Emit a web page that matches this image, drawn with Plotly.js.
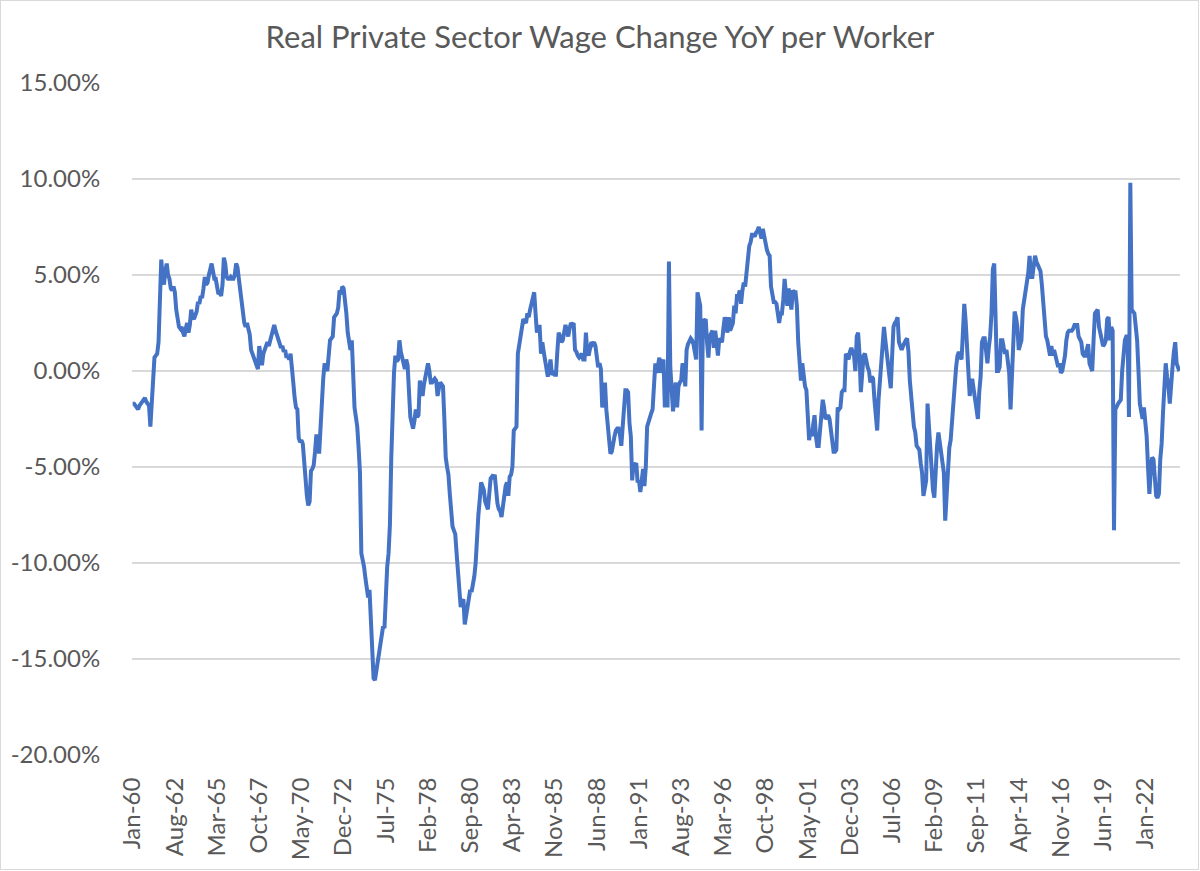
<!DOCTYPE html>
<html>
<head>
<meta charset="utf-8">
<script src="https://cdn.plot.ly/plotly-3.0.1.min.js"></script>
<style>
  html, body { margin: 0; padding: 0; background: #fff; }
  #wrap { position: relative; width: 1200px; height: 871px; }
  #chart { width: 1200px; height: 871px; }
  #frame { position: absolute; left: 0; top: 0; width: 1197px; height: 868px; border: 1px solid #d9d9d9; pointer-events: none; }
</style>
</head>
<body>
<div id="wrap"><div id="chart"></div><div id="frame"></div></div>
<script>
// Monthly values (% YoY), Jan-1960 onward
const w1960s = [
  -1.7, -1.7, -1.8, -1.9, -2.0, -1.8, -1.7, -1.6, -1.5, -1.4, -1.6, -1.7,
  -1.8, -2.9, -1.9, -0.6, 0.7, 0.8, 0.9, 1.5, 3.4, 5.8, 4.9, 4.5,
  5.2, 5.6, 5.0, 4.8, 4.3, 4.2, 4.4, 4.1, 3.2, 2.5, 2.3, 2.2,
  2.3, 2.0, 1.8, 2.2, 2.5, 2.0, 2.4, 3.2, 2.8, 2.7, 2.9, 3.1,
  3.6, 3.5, 3.9, 3.8, 4.3, 4.9, 4.5, 4.6, 5.0, 5.3, 5.6, 5.2,
  4.8, 4.8, 4.5, 4.0, 4.1, 3.9, 4.5, 5.9, 5.6, 4.9, 4.8, 4.8,
  4.9, 4.8, 4.8, 5.0, 5.6, 5.4, 4.8, 4.2, 3.7, 2.8, 2.5, 2.3,
  2.5, 2.2, 1.9, 1.1, 0.9, 0.6, 0.5, 0.3, 0.1, 1.3, 0.8, 0.3,
  0.9, 1.1, 1.4, 1.5, 1.3, 1.6, 1.7, 2.0, 2.4, 2.1, 1.9, 1.7,
  1.5, 1.2, 1.3, 1.0, 1.1, 0.7, 0.8, 0.6, 0.9, -0.2, -0.6, -1.4
];
const w1970s = [
  -1.9, -2.0, -3.5, -3.7, -3.6, -3.8, -4.5, -5.6, -6.5, -7.0, -6.8, -5.2,
  -5.1, -4.9, -4.2, -3.3, -3.8, -4.3, -3.0, -1.0, -0.4, 0.4, 0.2, 0.0,
  0.8, 1.6, 1.7, 1.8, 2.8, 2.9, 3.0, 3.3, 4.2, 4.0, 4.4, 4.3,
  3.7, 3.0, 2.0, 1.5, 1.1, 1.6, -0.5, -1.9, -2.4, -2.9, -4.0, -5.3,
  -9.5, -9.8, -10.2, -10.8, -11.5, -11.8, -11.4, -13.0, -14.5, -16.0, -16.1, -15.6,
  -15.0, -14.5, -14.0, -13.6, -13.3, -13.4, -11.5, -10.2, -9.5, -8.0, -4.5, -1.2,
  -0.1, 0.8, 0.5, 0.6, 1.6, 1.0, 0.6, 0.4, 0.1, 0.6, 0.3, -1.5,
  -2.4, -2.7, -3.0, -2.6, -2.0, -2.4, -2.3, -0.5, -1.0, -1.3, -0.7, -0.3,
  0.0, 0.4, 0.0, -0.6, -0.6, -0.5, -0.4, -0.5, -1.3, -0.9, -0.6, -0.7,
  -0.8, -2.5, -4.5, -5.0, -5.4, -6.4, -7.2, -8.1, -8.3, -8.5, -9.5, -10.5
];
const w1980s = [
  -11.5, -12.3, -12.0, -11.9, -13.2, -12.8, -12.3, -11.8, -11.4, -11.5, -11.2, -10.7,
  -10.0, -8.4, -7.5, -6.7, -5.8, -6.0, -6.2, -6.8, -7.1, -7.2, -6.4, -5.6,
  -5.5, -5.6, -5.4, -6.2, -6.9, -7.2, -7.3, -7.6, -7.0, -6.4, -6.0, -5.8,
  -6.5, -5.5, -5.4, -5.0, -3.1, -3.0, -2.9, 0.9, 1.3, 1.8, 2.2, 2.7,
  2.6, 2.5, 3.0, 2.8, 3.2, 3.5, 3.7, 4.1, 3.0, 2.0, 2.3, 2.3,
  0.9, 1.5, 1.0, 0.6, 0.2, -0.3, 0.1, 0.6, -0.2, -0.1, -0.2, -0.2,
  1.0, 2.0, 1.8, 1.5, 1.6, 2.0, 2.4, 2.1, 1.8, 2.2, 2.5, 2.4,
  2.5, 1.1, 1.0, 0.8, 0.7, 0.8, 0.9, 0.6, 0.6, 2.0, 1.0, 0.8,
  1.2, 1.5, 1.4, 1.5, 1.3, 0.8, 0.2, 0.4, 0.1, -1.9, -0.9, -0.6,
  -2.0, -2.8, -3.6, -4.3, -4.2, -3.6, -3.4, -3.1, -3.0, -3.0, -3.3, -3.9
];
const w1990s = [
  -2.8, -2.0, -1.0, -1.0, -1.1, -2.7, -3.4, -5.7, -4.8, -4.9, -4.8, -5.8,
  -5.7, -6.3, -5.6, -5.1, -6.0, -5.0, -2.9, -2.6, -2.4, -2.2, -2.0, -1.0,
  0.4, -0.1, 0.2, 0.7, -0.1, 0.3, 0.6, -1.9, -0.5, -1.9, 5.7, 0.2,
  -1.0, -2.1, -1.2, -0.6, -1.9, -0.8, -0.6, -0.5, 0.4, 0.2, -0.8, 1.1,
  1.4, 1.6, 1.7, 1.6, 1.4, 1.0, 0.6, 4.1, 3.8, 3.4, -3.1, 2.7,
  2.6, 2.7, 1.5, 0.7, 1.8, 2.0, 2.1, 1.2, 2.1, 1.5, 0.8, 1.7,
  1.6, 1.5, 2.2, 2.8, 2.5, 2.0, 2.8, 2.1, 2.3, 2.5, 3.4, 3.0,
  3.9, 3.9, 4.2, 3.5, 4.2, 4.6, 4.4, 5.2, 6.1, 6.5, 6.7, 7.1,
  7.1, 7.0, 7.2, 7.3, 7.5, 7.1, 6.9, 7.4, 7.0, 6.5, 6.3, 6.1,
  6.0, 4.4, 4.1, 3.6, 3.6, 3.5, 3.0, 2.5, 3.0, 3.0, 3.7, 4.8
];
const w2000s = [
  4.0, 3.4, 4.3, 3.8, 3.2, 4.2, 4.1, 4.1, 3.4, 1.5, 0.4, -0.5,
  0.4, -0.3, -0.8, -1.0, -2.2, -3.6, -3.1, -3.4, -2.8, -2.3, -3.4, -3.9,
  -3.9, -3.2, -2.5, -1.5, -1.9, -2.5, -2.4, -2.3, -2.5, -3.1, -3.7, -4.2,
  -4.2, -4.1, -1.9, -2.0, -1.9, -1.1, -1.0, -1.0, 0.9, 0.7, 0.6, 1.0,
  1.2, 1.0, 0.8, 0.0, 1.8, 2.0, 0.9, -1.1, 0.0, 0.8, 0.9, 0.5,
  0.2, 0.0, -0.6, -0.3, -0.4, -1.5, -2.4, -3.1, -1.5, -0.5, 0.6, 1.5,
  2.3, 1.6, 1.0, 0.3, -0.5, -0.9, 0.8, 2.3, 2.5, 2.6, 2.8, 1.5,
  1.3, 1.1, 1.3, 1.5, 1.6, 1.7, 1.0, -0.5, -1.5, -2.4, -2.9, -3.2,
  -3.9, -4.0, -4.1, -4.8, -5.3, -6.5, -6.0, -5.7, -1.7, -3.0, -3.9, -5.7,
  -6.2, -6.6, -5.0, -3.9, -3.2, -3.8, -4.3, -4.6, -5.3, -7.8, -6.4, -4.6
];
const w2010s = [
  -4.0, -3.6, -2.5, -1.5, -0.8, 0.2, 0.8, 1.0, 0.8, 0.6, 2.0, 3.5,
  2.6, 1.0, 0.2, -1.3, -0.5, -0.5, -1.0, -1.5, -2.0, -2.5, -1.1, -0.3,
  1.5, 1.7, 1.7, 1.0, 0.4, 1.2, 1.8, 3.0, 5.3, 5.6, 1.8, 0.0,
  0.0, 0.2, 1.6, 1.6, 1.2, 0.9, 1.1, 0.2, -0.1, -2.0, 0.0, 1.8,
  3.1, 2.8, 2.3, 1.1, 1.3, 1.6, 3.2, 3.7, 4.2, 4.6, 5.1, 6.0,
  4.9, 4.9, 5.5, 6.0, 5.7, 5.5, 5.3, 5.2, 4.5, 3.7, 3.0, 1.8,
  1.6, 1.2, 0.8, 1.3, 0.8, 1.1, 0.8, 0.6, 0.2, 0.4, -0.1, 0.0,
  0.3, 0.8, 1.6, 2.0, 2.1, 2.1, 2.1, 2.2, 2.4, 2.4, 2.4, 1.8,
  1.6, 1.5, 0.9, 0.8, 0.8, 1.1, 1.4, 0.4, 0.2, 0.0, 1.6, 3.0,
  3.1, 3.2, 2.3, 2.0, 1.8, 1.3, 1.4, 1.6, 2.7, 2.8, 1.6, 2.3
];
const w2020s = [
  2.1, -8.3, -2.0, -1.8, -1.7, -1.6, -1.5, 0.0, 0.8, 1.6, 1.8, 1.8,
  -2.4, 9.8, 3.2, 3.1, 3.0, 2.3, 1.6, 0.0, -1.7, -2.1, -2.5, -1.9,
  -2.6, -3.4, -5.0, -6.4, -5.2, -4.5, -4.6, -5.5, -6.5, -6.6, -6.4, -4.6,
  -3.8, -2.2, -0.8, 0.4, -0.3, -0.8, -1.7, -0.5, 0.2, 1.0, 1.5, 0.4,
  0.2, 0.0
];
const monthNames = ['Jan','Feb','Mar','Apr','May','Jun','Jul','Aug','Sep','Oct','Nov','Dec'];
const startYear = 1960;
const tickEvery = 31;
const yTickVals = [-20, -15, -10, -5, 0, 5, 10, 15];
const yTickText = ['-20.00%', '-15.00%', '-10.00%', '-5.00%', '0.00%', '5.00%', '10.00%', '15.00%'];
const chartTitle = 'Real Private Sector Wage Change YoY per Worker';

const values = [].concat(w1960s, w1970s, w1980s, w1990s, w2000s, w2010s, w2020s);
const months = values.map((v, i) => {
  const yr = (startYear + Math.floor(i / 12)) % 100;
  return monthNames[i % 12] + '-' + String(yr).padStart(2, '0');
});
const xTickVals = months.filter((m, i) => i % tickEvery === 0);

const font = 'Lato, "Open Sans", sans-serif';
const grey = '#595959';

Plotly.newPlot('chart', [{
  type: 'scatter',
  mode: 'lines',
  x: months,
  y: values,
  line: { color: '#4472C4', width: 4 },
  hoverinfo: 'x+y'
}], {
  width: 1200,
  height: 871,
  margin: { l: 132, r: 20, t: 83, b: 116 },
  paper_bgcolor: '#ffffff',
  plot_bgcolor: '#ffffff',
  showlegend: false,
  title: {
    text: chartTitle,
    font: { family: font, size: 31, color: grey },
    x: 0.5, xanchor: 'center', y: 0.957, yanchor: 'middle'
  },
  xaxis: {
    type: 'category',
    range: [-0.5, values.length - 0.5],
    tickmode: 'array',
    tickvals: xTickVals,
    ticktext: xTickVals,
    tickangle: -90,
    ticks: 'outside', ticklen: 12, tickcolor: 'rgba(0,0,0,0)',
    tickfont: { family: font, size: 24, color: grey },
    showgrid: false, zeroline: false, showline: false
  },
  yaxis: {
    range: [-20, 15],
    tickmode: 'array',
    tickvals: yTickVals,
    ticktext: yTickText,
    ticks: 'outside', ticklen: 26, tickcolor: 'rgba(0,0,0,0)',
    tickfont: { family: font, size: 24, color: grey },
    showgrid: true, gridcolor: '#d9d9d9', gridwidth: 1.3,
    zeroline: false, showline: false
  }
}, { displayModeBar: false, staticPlot: true });
</script>
</body>
</html>
